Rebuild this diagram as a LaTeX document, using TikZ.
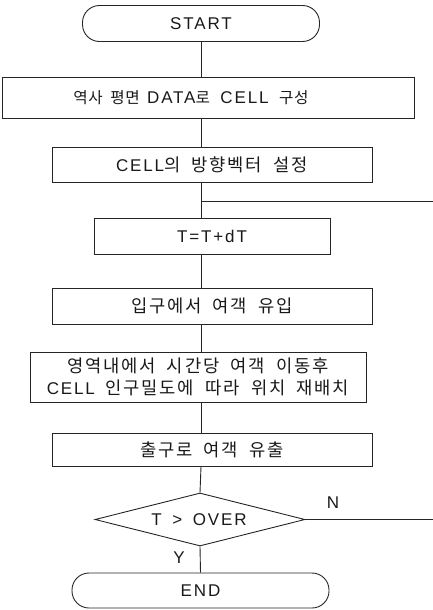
\documentclass[tikz,border=0pt]{standalone}
\usepackage{fontspec}
\setmainfont[LetterSpace=11, WordSpace=1.6]{Liberation Sans}
\newfontfamily\kr[LetterSpace=10, WordSpace=2.0, Scale=1.04]{Noto Sans CJK KR}
\newfontfamily\krn[LetterSpace=4, WordSpace=1.8, Scale=0.92]{Noto Sans CJK KR}
\usetikzlibrary{shapes.geometric}
\tikzset{
  line/.style={draw=black!85, line width=0.9pt},
  proc/.style={rectangle, draw=black!85, line width=0.9pt, inner sep=0pt},
  term/.style={rectangle, rounded corners=17pt, draw=black!85, line width=0.9pt, inner sep=0pt},
  dec/.style={diamond, draw=black!85, line width=0.9pt, inner sep=0pt, aspect=4},
  txt/.style={font=\fontsize{17}{22}\selectfont, text=black!90, inner sep=0pt},
  lbl/.style={font=\fontsize{17}{22}\selectfont, text=black!90, inner sep=0pt}
}
\begin{document}
\begin{tikzpicture}[x=1pt,y=-1pt]
\useasboundingbox (0,0) rectangle (433,610);
\coordinate (ax) at (201,0);
\coordinate (re) at (433,0);
\node[term, minimum width=237pt, minimum height=36pt] (start) at (201,23.5) {};
\node[txt] (startt) at (201,23.5) {START};
\node[proc, minimum width=412pt, minimum height=41pt] (b1) at (208.5,97.5) {};
\node[txt] (b1t) at (191,97.5) {{\krn 역사 평면 }DATA{\krn 로} CELL {\krn 구성}};
\node[proc, minimum width=320pt, minimum height=35pt, txt] (b2) at (212,164.5) {CELL{\kr 의 방향벡터 설정}};
\node[proc, minimum width=236pt, minimum height=36pt, txt] (b3) at (212,236) {T=T+dT};
\node[proc, minimum width=320pt, minimum height=36pt, txt] (b4) at (212,306) {{\kr 입구에서 여객 유입}};
\node[proc, minimum width=336pt, minimum height=50pt, txt, align=center] (b5) at (198,377) {{\kr 영역내에서 시간당 여객 이동후}\\CELL {\kr 인구밀도에 따라 위치 재배치}};
\node[proc, minimum width=320pt, minimum height=33pt, txt] (b6) at (212,449.5) {{\kr 출구로 여객 유출}};
\node[dec, minimum width=210pt, minimum height=53pt] (dia) at (200,519.5) {};
\node[txt] (diat) at (199,519.5) {T > OVER};
\node[term, minimum width=257pt, minimum height=35pt] (end) at (200.5,590.5) {};
\node[txt] (endt) at (200.5,590.5) {END};
\node[lbl] (n) at (333,503) {N};
\node[lbl] (y) at (179,558) {Y};
\coordinate (loopj) at (201,201);
\draw[line] (start.south) -- (b1.north -| ax);
\draw[line] (b1.south -| ax) -- (b2.north -| ax);
\draw[line] (b2.south -| ax) -- (b3.north -| ax);
\draw[line] (b3.south -| ax) -- (b4.north -| ax);
\draw[line] (b4.south -| ax) -- (b5.north -| ax);
\draw[line] (b5.south -| ax) -- (b6.north -| ax);
\draw[line] (b6.south -| ax) -- (dia.north);
\draw[line] (dia.south) -- (end.north);
\draw[line] (loopj) -- (loopj -| re);
\draw[line] (dia.east) -- (dia.east -| re);
\end{tikzpicture}
\end{document}
